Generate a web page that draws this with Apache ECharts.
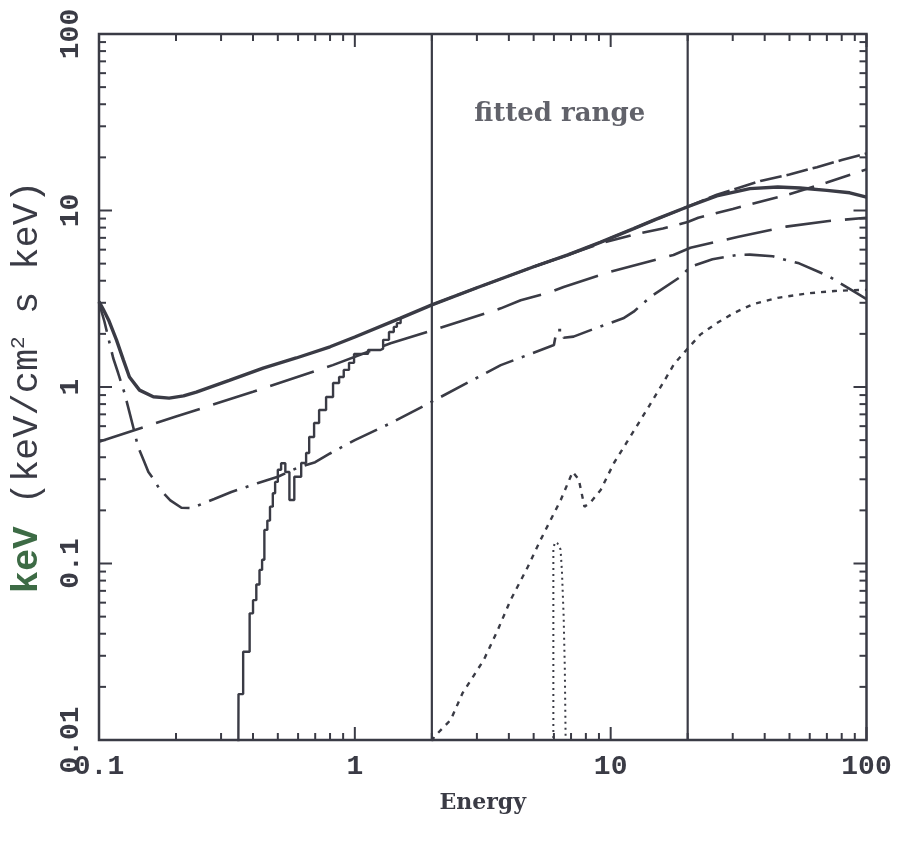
<!DOCTYPE html>
<html><head><meta charset="utf-8">
<script src="https://cdn.jsdelivr.net/npm/echarts/dist/echarts.min.js"></script>
<style>html,body{margin:0;padding:0;background:#fff}#c{width:897px;height:854px}</style>
</head><body><div id="c"></div>
<script>
// ---- data (energy keV, keV^2 flux) ----
const totalModel = [[0.1,3.05],[0.104,2.75],[0.109,2.4],[0.117,1.85],[0.1246,1.42],[0.1315,1.14],[0.144,0.96],[0.163,0.88],[0.188,0.865],[0.214,0.89],[0.24,0.935],[0.323,1.09],[0.438,1.28],[0.59,1.46],[0.8,1.69],[1.0,1.92],[1.5,2.45],[2.0,2.92],[3.0,3.65],[5.0,4.8],[6.8,5.6],[9.1,6.6],[12.3,7.9],[15,8.9],[20,10.5],[26,12.1],[35,13.3],[45,13.6],[55,13.4],[70,13.0],[86,12.6],[100,11.9]];
const upperModel = [[2.0,2.92],[3.0,3.65],[5.0,4.8],[6.8,5.6],[9.1,6.6],[12.3,7.9],[15,8.9],[20,10.5],[26,12.3],[38.5,14.7],[50,16.0],[64,17.6],[80,19.3],[100,21.0]];
const secondModel = [[5.0,4.8],[6.8,5.6],[9.1,6.5],[12.3,7.3],[16,7.9],[20,8.6],[22,9.1],[30,10.2],[43,11.7],[48.5,12.2],[70,14.4],[100,17.1]];
const powerLaw = [[0.1,0.49],[0.2,0.68],[0.4,0.94],[0.82,1.33],[1.38,1.77],[2,2.09],[3.72,2.79],[4.45,3.1],[5.82,3.45],[6.55,3.69],[10,4.5],[17.6,5.6],[20.5,6.15],[27.7,6.8],[31.6,7.1],[44.7,7.9],[48.5,8.1],[70,8.7],[100,9.1]];
const comptModel = [[0.1,3.0],[0.105,2.35],[0.1136,1.46],[0.1188,1.2],[0.1258,0.925],[0.1315,0.72],[0.137,0.57],[0.142,0.46],[0.15,0.38],[0.156,0.33],[0.165,0.295],[0.172,0.265],[0.19,0.228],[0.21,0.207],[0.23,0.206],[0.282,0.232],[0.329,0.254],[0.419,0.286],[0.5,0.31],[0.6,0.35],[0.7,0.375],[0.8,0.42],[1.0,0.5],[1.4,0.63],[2.0,0.826],[3.72,1.33],[6.0,1.73],[6.15,2.1],[6.5,2.1],[6.55,1.9],[7.16,1.93],[8.35,2.1],[11.2,2.45],[12.3,2.67],[14.3,3.24],[18.7,4.2],[20.5,4.8],[25,5.3],[31.2,5.6],[35,5.62],[43,5.5],[48.5,5.24],[54.5,5.02],[64.9,4.5],[71.9,4.2],[91.6,3.4],[100,3.15]];
const reflection = [[2.0,0.0098],[2.04,0.0104],[2.37,0.013],[2.64,0.0185],[3.19,0.0284],[3.62,0.042],[4.06,0.062],[4.74,0.0955],[5.32,0.136],[5.82,0.176],[6.38,0.229],[7.1,0.33],[7.5,0.3],[7.9,0.21],[8.3,0.22],[9.14,0.261],[10.3,0.371],[11.6,0.49],[13.9,0.75],[16,1.05],[17.7,1.35],[20,1.65],[22.4,1.98],[26,2.3],[30.2,2.62],[36.1,2.95],[45,3.2],[58.6,3.39],[75,3.5],[94.6,3.55],[100,3.55]];
const ironLine = [[5.97,0.0095],[5.97,0.12],[6.05,0.132],[6.2,0.13],[6.37,0.12],[6.45,0.09],[6.55,0.05],[6.62,0.025],[6.67,0.0095]];
const absorbed = [[0.3505,0.009],[0.351,0.0182],[0.366,0.0316],[0.388,0.0522],[0.40,0.062],[0.412,0.076],[0.424,0.092],[0.434,0.105],[0.443,0.155],[0.455,0.175],[0.466,0.21],[0.478,0.25],[0.488,0.29],[0.5,0.34],[0.515,0.37],[0.535,0.33],[0.555,0.229],[0.58,0.31],[0.617,0.371],[0.645,0.423],[0.663,0.521],[0.693,0.625],[0.725,0.741],[0.772,0.878],[0.822,1.054],[0.868,1.14],[0.905,1.25],[0.949,1.37],[0.993,1.54],[1.126,1.62],[1.26,1.65],[1.29,1.85],[1.36,2.05],[1.42,2.19],[1.46,2.3],[1.51,2.49]];
const fittedRange = [2, 20];
const fittedLabel = 'fitted range';
const xMajorTicks = [0.1,1,10,100];
const xMinorTicks = [0.2,0.3,0.4,0.5,0.6,0.7,0.8,0.9,2,3,4,5,6,7,8,9,20,30,40,50,60,70,80,90];
const yMajorTicks = [0.01,0.1,1,10,100];
const yMinorTicks = [0.02,0.03,0.04,0.05,0.06,0.07,0.08,0.09,0.2,0.3,0.4,0.5,0.6,0.7,0.8,0.9,2,3,4,5,6,7,8,9,20,30,40,50,60,70,80,90];

// ---- styles ----
const INK = '#3a3b45';
const MAJ = 13, MIN = 7;
const chart = echarts.init(document.getElementById('c'), null, {renderer:'canvas'});
const fmt = v => String(parseFloat(Number(v).toPrecision(6)));

function renderTicks(params, api){
  const cs = params.coordSys;
  const st = {stroke: INK, lineWidth: 2};
  const ch = [];
  const add = (x1,y1,x2,y2) => ch.push({type:'line', shape:{x1,y1,x2,y2}, style:st});
  const bot = cs.y + cs.height, top = cs.y, lef = cs.x, rig = cs.x + cs.width;
  const xt = (arr,len) => arr.forEach(v => { const p = api.coord([v,1])[0]; add(p,bot,p,bot-len); add(p,top,p,top+len); });
  const yt = (arr,len) => arr.forEach(v => { const p = api.coord([1,v])[1]; add(lef,p,lef+len,p); add(rig,p,rig-len,p); });
  xt(xMajorTicks, MAJ); xt(xMinorTicks, MIN); yt(yMajorTicks, MAJ); yt(yMinorTicks, MIN);
  return {type:'group', children: ch};
}

const lineSeries = (data, width, dash, extra) => Object.assign({
  type:'line', data, symbol:'none', showSymbol:false, clip:true, animation:false, silent:true,
  lineStyle:{color:INK, width, type:dash, cap:'butt'}
}, extra||{});

chart.setOption({
  animation:false,
  backgroundColor:'#ffffff',
  grid:{left:97, right:30.5, top:34, bottom:114, show:true, borderColor:INK, borderWidth:2.5, backgroundColor:'transparent'},
  xAxis:{type:'log', logBase:10, min:0.1, max:100,
    name:'Energy', nameLocation:'middle', nameGap:52,
    nameTextStyle:{fontFamily:'DejaVu Serif', fontWeight:'bold', fontSize:22, color:INK},
    axisLine:{show:false}, axisTick:{show:false}, splitLine:{show:false}, minorTick:{show:false},
    axisLabel:{formatter:fmt, margin:13, fontFamily:'Liberation Mono', fontWeight:'bold', fontSize:28, color:INK}},
  yAxis:{type:'log', logBase:10, min:0.01, max:100,
    name:'{g|keV}{n| (keV/cm}{s|2}{n| s keV)}', nameLocation:'middle', nameGap:52, nameRotate:90,
    nameTextStyle:{rich:{
      g:{fontFamily:'Liberation Mono', fontWeight:'bold', fontSize:37, color:'#3d6b45'},
      n:{fontFamily:'Liberation Mono', fontSize:37, color:INK},
      s:{fontFamily:'Liberation Mono', fontSize:21, color:INK, padding:[0,0,18,0]}}},
    axisLine:{show:false}, axisTick:{show:false}, splitLine:{show:false}, minorTick:{show:false},
    axisLabel:{formatter:fmt, rotate:90, margin:14, fontFamily:'Liberation Mono', fontWeight:'bold', fontSize:28, color:INK}},
  series:[
    lineSeries(powerLaw, 2.6, [46,14]),
    lineSeries(secondModel, 2.6, [26,12]),
    lineSeries(upperModel, 2.6, [22,5]),
    lineSeries(comptModel, 2.6, [30,9,3,9]),
    lineSeries(reflection, 2.4, [5,6]),
    lineSeries(ironLine, 2, [2,4]),
    lineSeries(absorbed, 2.4, 'solid', {step:'end'}),
    lineSeries(totalModel, 3.4, 'solid'),
    lineSeries([[fittedRange[0],0.01],[fittedRange[0],100]], 2.2, 'solid'),
    lineSeries([[fittedRange[1],0.01],[fittedRange[1],100]], 2.2, 'solid'),
    {type:'scatter', data:[[Math.sqrt(fittedRange[0]*fittedRange[1]), 35]], symbolSize:0, silent:true, animation:false,
      label:{show:true, position:'inside', formatter:fittedLabel, fontFamily:'DejaVu Serif', fontWeight:'bold', fontSize:26, color:INK}},
    {type:'custom', data:[[1,1]], renderItem:renderTicks, silent:true, clip:false, animation:false, z:10}
  ]
});
</script>
</body></html>
